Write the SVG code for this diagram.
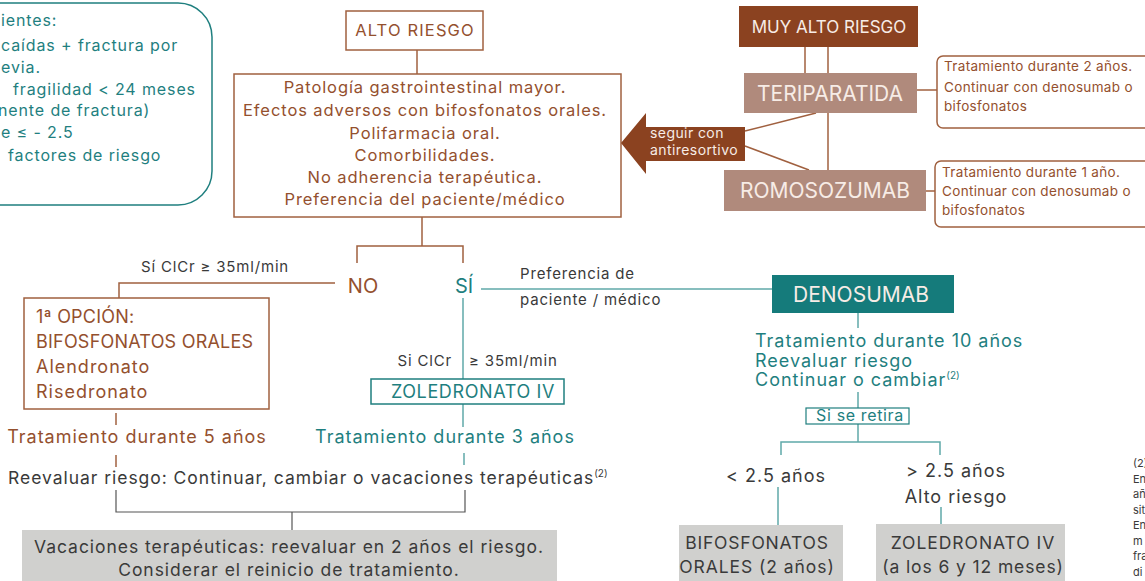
<svg xmlns="http://www.w3.org/2000/svg" width="1145" height="581" viewBox="0 0 1145 581">
<style>
text{font-family:Inter,"Open Sans","Liberation Sans",sans-serif;letter-spacing:0.055em}
.br{fill:#94502e}
.tl{fill:#1f7f7f}
.dk{fill:#3a3a3a}
.wh{fill:#f7ece6}
text.ls0,.ls0 text{letter-spacing:0}
.ls2 text{letter-spacing:0.025em}
text.ls3{letter-spacing:0.03em}
text.ls1{letter-spacing:0.012em}
.bl{stroke:#a0603f;stroke-width:1.5;fill:none}
.tln{stroke:#5fa9a9;stroke-width:1.5;fill:none}
.gl{stroke:#555;stroke-width:1.2;fill:none}
.c{text-anchor:middle}
.sup{font-size:10px;letter-spacing:0}
</style>
<rect width="1145" height="581" fill="#ffffff"/>

<g id="criteria">
<rect x="-40" y="3" width="252" height="202" rx="34" fill="#fff" stroke="#1f7f7f" stroke-width="1.5"/>
<g class="tl" font-size="16">
<text x="1" y="26">ientes:</text>
<text x="1" y="51">caídas + fractura por</text>
<text x="1" y="73">evia.</text>
<text x="13" y="95">fragilidad &lt; 24 meses</text>
<text x="-2" y="116">nente de fractura)</text>
<text x="1" y="138">e ≤ - 2.5</text>
<text x="8" y="161">factores de riesgo</text>
</g>
</g>

<g id="fragment-left"><text x="-4" y="385" font-size="13" class="dk">)</text></g>

<g id="connectors">
<line class="bl" x1="417" y1="50" x2="417" y2="74"/>
<polyline class="bl" points="357,263 357,246 463,246 463,263"/>
<line class="bl" x1="422" y1="217" x2="422" y2="246"/>
<polyline class="bl" points="335,283 119,283 119,298"/>
<line class="bl" x1="116" y1="413" x2="116" y2="425"/>
<line class="bl" x1="116" y1="455" x2="116" y2="467"/>
<line class="tln" x1="481" y1="289" x2="772" y2="289"/>
<line class="tln" x1="463" y1="298" x2="463" y2="379"/>
<line class="tln" x1="463" y1="404" x2="463" y2="427"/>
<line class="tln" x1="464" y1="453" x2="464" y2="465"/>
<polyline class="gl" points="116,490 116,512 465,512 465,490"/>
<line class="gl" x1="292" y1="512" x2="292" y2="530"/>
<line class="bl" x1="805" y1="46" x2="805" y2="73"/>
<line class="bl" x1="828" y1="46" x2="828" y2="73"/>
<line class="bl" x1="828" y1="113" x2="828" y2="170"/>
<line class="bl" x1="917" y1="90" x2="937" y2="90"/>
<line class="bl" x1="926" y1="191" x2="935" y2="191"/>
<line class="bl" x1="745" y1="131" x2="816" y2="113"/>
<line class="bl" x1="745" y1="146" x2="809" y2="170"/>
<line class="tln" x1="858" y1="313" x2="858" y2="328"/>
<line class="tln" x1="858" y1="392" x2="858" y2="408"/>
<polyline class="tln" points="781,455 781,442 940,442 940,455"/>
<line class="tln" x1="858" y1="424" x2="858" y2="442"/>
<line class="tln" x1="778" y1="487" x2="778" y2="525"/>
<line class="tln" x1="941" y1="507" x2="941" y2="524"/>
</g>

<g id="alto-riesgo">
<rect x="346" y="11" width="137" height="39" fill="#fff" stroke="#a0603f" stroke-width="1.5"/>
<text x="415" y="36" font-size="16.5" class="br c" style="letter-spacing:0.07em">ALTO RIESGO</text>
</g>

<g id="conditions">
<rect x="234" y="74" width="387" height="143" fill="#fff" stroke="#a0603f" stroke-width="1.5"/>
<g class="br c" font-size="16.5">
<text x="425" y="93">Patología gastrointestinal mayor.</text>
<text x="425" y="116">Efectos adversos con bifosfonatos orales.</text>
<text x="425" y="139">Polifarmacia oral.</text>
<text x="425" y="161">Comorbilidades.</text>
<text x="425" y="183">No adherencia terapéutica.</text>
<text x="425" y="205">Preferencia del paciente/médico</text>
</g>
</g>

<g id="muy-alto-riesgo">
<rect x="739" y="6" width="179" height="41" fill="#8b4220"/>
<text x="829" y="33" font-size="17" class="wh c ls0">MUY ALTO RIESGO</text>
</g>

<g id="teriparatida">
<rect x="744" y="73" width="173" height="40" fill="#b08a7c"/>
<text x="830" y="101" font-size="21" class="wh c ls0">TERIPARATIDA</text>
</g>

<g id="romosozumab">
<rect x="724" y="170" width="202" height="41" fill="#b08a7c"/>
<text x="825" y="198" font-size="21" class="wh c ls0">ROMOSOZUMAB</text>
</g>

<g id="teri-note">
<rect x="937" y="56" width="220" height="72" rx="6" fill="#fff" stroke="#a0603f" stroke-width="1.5"/>
<g class="br ls2" font-size="13.5">
<text x="944" y="71">Tratamiento durante 2 años.</text>
<text x="944" y="92">Continuar con denosumab o</text>
<text x="944" y="111">bifosfonatos</text>
</g>
</g>

<g id="romo-note">
<rect x="935" y="161" width="222" height="66" rx="6" fill="#fff" stroke="#a0603f" stroke-width="1.5"/>
<g class="br ls2" font-size="13.5">
<text x="942" y="177">Tratamiento durante 1 año.</text>
<text x="942" y="196">Continuar con denosumab o</text>
<text x="942" y="215">bifosfonatos</text>
</g>
</g>

<g id="antiresortivo">
<polygon points="621,143 646,113 646,127 745,127 745,161 646,161 646,174" fill="#8b4220"/>
<text x="650" y="138" font-size="14" class="wh ls3">seguir con</text>
<text x="650" y="155" font-size="14" class="wh ls3">antiresortivo</text>
</g>

<g id="no">
<text x="363" y="293" font-size="20" class="br c ls0">NO</text>
<text x="215" y="272" font-size="15" class="dk c">Sí ClCr ≥ 35ml/min</text>
</g>

<g id="si">
<text x="464" y="293" font-size="20" class="tl c ls0">SÍ</text>
<text x="520" y="279" font-size="15" class="dk">Preferencia de</text>
<text x="520" y="305" font-size="15" class="dk">paciente / médico</text>
<text x="452" y="366" font-size="15" class="dk" text-anchor="end">Si ClCr</text>
<text x="469" y="366" font-size="15" class="dk">≥ 35ml/min</text>
</g>

<g id="bifosfonatos-orales">
<rect x="24" y="298" width="245" height="111" fill="#fff" stroke="#a0603f" stroke-width="1.5"/>
<g class="br" font-size="18">
<text x="36" y="323" class="ls1">1ª OPCIÓN:</text>
<text x="36" y="348" class="ls1">BIFOSFONATOS ORALES</text>
<text x="36" y="373">Alendronato</text>
<text x="36" y="398">Risedronato</text>
</g>
<text x="137" y="443" font-size="18" class="br c">Tratamiento durante 5 años</text>
</g>

<g id="zoledronato">
<rect x="371" y="379" width="193" height="25" fill="#fff" stroke="#1f7f7f" stroke-width="1.5"/>
<text x="473" y="398" font-size="18" class="tl c" style="letter-spacing:0.035em">ZOLEDRONATO IV</text>
<text x="445" y="443" font-size="18" class="tl c">Tratamiento durante 3 años</text>
</g>

<g id="reevaluar">
<text x="8" y="484" font-size="17.5" class="dk">Reevaluar riesgo: Continuar, cambiar o vacaciones terapéuticas<tspan class="sup" dy="-7">(2)</tspan></text>
</g>

<g id="vacaciones">
<rect x="22" y="530" width="535" height="60" fill="#d0d0ce"/>
<text x="289" y="553" font-size="17.5" class="dk c">Vacaciones terapéuticas: reevaluar en 2 años el riesgo.</text>
<text x="289" y="576" font-size="17.5" class="dk c">Considerar el reinicio de tratamiento.</text>
</g>

<g id="denosumab">
<rect x="772" y="275" width="182" height="38" fill="#157b7b"/>
<text x="861" y="302" font-size="21" class="wh c ls0">DENOSUMAB</text>
<g class="tl" font-size="18">
<text x="755" y="347">Tratamiento durante 10 años</text>
<text x="755" y="367">Reevaluar riesgo</text>
<text x="755" y="386">Continuar o cambiar<tspan class="sup" dy="-7">(2)</tspan></text>
</g>
</g>

<g id="si-se-retira">
<rect x="806" y="408" width="103" height="16" fill="#fff" stroke="#1f7f7f" stroke-width="1.2"/>
<text x="860" y="421" font-size="16" class="tl c" style="letter-spacing:0.04em">Si se retira</text>
</g>

<g id="menos-2-5">
<text x="776" y="482" font-size="18" class="dk c">&lt; 2.5 años</text>
</g>
<g id="mas-2-5">
<text x="956" y="477" font-size="18" class="dk c">&gt; 2.5 años</text>
<text x="956" y="503" font-size="18" class="dk c">Alto riesgo</text>
</g>

<g id="bifos-2">
<rect x="679" y="525" width="164" height="60" fill="#d0d0ce"/>
<text x="757" y="549" font-size="17.5" class="dk c" style="letter-spacing:0.045em">BIFOSFONATOS</text>
<text x="757" y="573" font-size="17.5" class="dk c" style="letter-spacing:0.053em">ORALES (2 años)</text>
</g>

<g id="zole-2">
<rect x="876" y="524" width="189" height="60" fill="#d0d0ce"/>
<text x="973" y="549" font-size="17.5" class="dk c">ZOLEDRONATO IV</text>
<text x="973" y="573" font-size="17.5" class="dk c" style="letter-spacing:0.051em">(a los 6 y 12 meses)</text>
</g>

<g id="footnote" font-size="11" class="dk ls0">
<text x="1133" y="467">(2)</text>
<text x="1133" y="483">En</text>
<text x="1133" y="498">añ</text>
<text x="1133" y="514">sit</text>
<text x="1133" y="529">En</text>
<text x="1133" y="545">m</text>
<text x="1133" y="560">fra</text>
<text x="1133" y="576">di</text>
</g>
</svg>
